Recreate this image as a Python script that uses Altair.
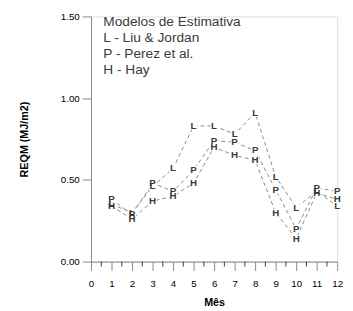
import altair as alt
import pandas as pd

months = list(range(1, 13))
liu = [0.35, 0.30, 0.46, 0.57, 0.83, 0.83, 0.78, 0.91, 0.52, 0.33, 0.43, 0.34]
perez = [0.38, 0.29, 0.48, 0.43, 0.56, 0.74, 0.73, 0.68, 0.44, 0.20, 0.45, 0.43]
hay = [0.34, 0.26, 0.37, 0.40, 0.48, 0.70, 0.65, 0.62, 0.30, 0.14, 0.42, 0.38]
series_codes = ["L", "P", "H"]
legend_lines = ["Modelos de Estimativa", "L - Liu & Jordan", "P - Perez et al.", "H - Hay"]
legend_y = [1.465, 1.365, 1.27, 1.17]
x_ticks = list(range(0, 13))
minor_ticks = [i + 0.5 for i in range(12)]
y_ticks = [0, 0.5, 1.0, 1.5]

rows = []
for code, vals in zip(series_codes, [liu, perez, hay]):
    for m, v in zip(months, vals):
        rows.append({"mes": m, "reqm": v, "serie": code})
df = pd.DataFrame(rows)
leg = pd.DataFrame({"txt": legend_lines, "reqm": legend_y, "mes": [0.6] * 4})
minor = pd.DataFrame({"mes": minor_ticks})

FONT = "Liberation Sans"
GRAY = "#3a3a3a"

xs = alt.X("mes:Q", scale=alt.Scale(domain=[0, 12], nice=False),
           axis=alt.Axis(values=x_ticks, title="Mês", format="d", tickSize=9,
                         labelOverlap=False, labelFlush=False,
                         labelPadding=8, titlePadding=9, grid=False))
ys = alt.Y("reqm:Q", scale=alt.Scale(domain=[0, 1.5], nice=False),
           axis=alt.Axis(values=y_ticks, title="REQM (MJ/m2)", format=".2f", tickSize=9,
                         labelOverlap=False, labelFlush=False,
                         labelPadding=3, titlePadding=32, grid=False))

lines = alt.Chart(df).mark_line(color="#8a8a8a", strokeWidth=1, strokeDash=[4, 3]).encode(
    x=xs, y=ys, detail="serie:N")
blanks = alt.Chart(df).mark_point(shape="square", filled=True, color="white", opacity=1, size=60).encode(
    x=xs, y=ys)
letters = alt.Chart(df).mark_text(font=FONT, fontSize=10, fontWeight="bold", color=GRAY,
                                  baseline="middle", align="center").encode(
    x=xs, y=ys, text="serie:N")
legend = alt.Chart(leg).mark_text(font=FONT, fontSize=14, color=GRAY, align="left",
                                  baseline="middle").encode(
    x=xs, y=ys, text="txt:N")
minor_rules = alt.Chart(minor).mark_rule(color=GRAY, strokeWidth=1).encode(
    x=xs, y=alt.value(251), y2=alt.value(256))

chart = alt.layer(lines, blanks, letters, legend, minor_rules).properties(
    width=252, height=251,
    autosize=alt.AutoSizeParams(type="none"),
    padding={"left": 85, "top": 5, "right": 8, "bottom": 50},
).configure_view(stroke=None).configure_axis(
    domainColor=GRAY, tickColor=GRAY, labelColor=GRAY, titleColor=GRAY,
    labelFont=FONT, titleFont=FONT, labelFontSize=11.5, labelFontWeight="bold",
    titleFontSize=12, titleFontWeight="bold", domainWidth=1, tickWidth=1,
    labelOverlap=False,
).configure(background="white")

chart.save("out.html", embed_options={"renderer": "svg", "actions": False})
